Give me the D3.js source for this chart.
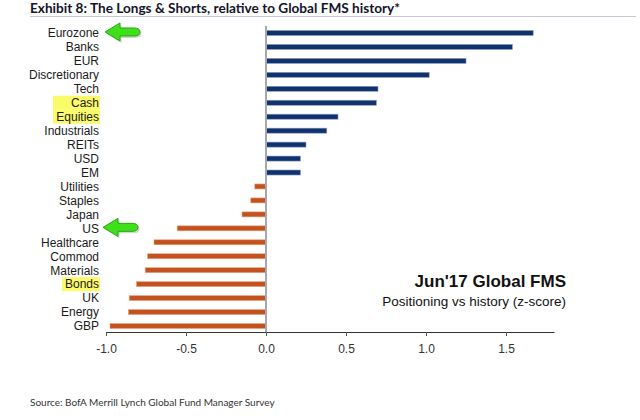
<!DOCTYPE html>
<html>
<head>
<meta charset="utf-8">
<script src="https://cdn.jsdelivr.net/npm/d3@7"></script>
<style>
  body { margin: 0; background: #fff; }
  svg { display: block; }
</style>
</head>
<body>
<div id="chart-area"></div>
<script>
const categories = ["Eurozone", "Banks", "EUR", "Discretionary", "Tech", "Cash", "Equities",
  "Industrials", "REITs", "USD", "EM", "Utilities", "Staples", "Japan", "US", "Healthcare",
  "Commod", "Materials", "Bonds", "UK", "Energy", "GBP"];
const zScores = [1.67, 1.54, 1.25, 1.02, 0.70, 0.69, 0.45, 0.38, 0.25, 0.215, 0.215,
  -0.07, -0.095, -0.15, -0.555, -0.70, -0.74, -0.755, -0.81, -0.855, -0.86, -0.975];
const tickValues = [-1.0, -0.5, 0.0, 0.5, 1.0, 1.5];
const highlighted = ["Cash", "Equities", "Bonds"];
const arrowed = ["Eurozone", "US"];

const data = categories.map((c, i) => ({ name: c, value: zScores[i] }));

const W = 640, H = 420;
const svg = d3.select("#chart-area")
  .append("svg")
  .attr("width", W)
  .attr("height", H);

// title + rule
svg.append("text")
  .attr("x", 30)
  .attr("y", 12.5)
  .attr("font-family", "Lato, 'Open Sans', sans-serif")
  .attr("font-weight", "bold")
  .attr("font-size", 14)
  .attr("fill", "#14142a")
  .attr("textLength", 370)
  .attr("lengthAdjust", "spacingAndGlyphs")
  .text("Exhibit 8: The Longs & Shorts, relative to Global FMS history*");

svg.append("line")
  .attr("x1", 30).attr("x2", 636)
  .attr("y1", 16.5).attr("y2", 16.5)
  .attr("stroke", "#c3c8d4")
  .attr("stroke-width", 1);

const x = d3.scaleLinear().domain([-1, 1.8]).range([106, 554]);
const y = d3.scaleBand().domain(categories).range([26, 333]).paddingInner(0.64).paddingOuter(0.32);
const rowMid = d => y(d) + y.bandwidth() / 2;

// yellow highlights behind some labels
svg.append("g")
  .selectAll("rect")
  .data(highlighted)
  .join("rect")
  .attr("x", d => d === "Bonds" ? 62 : 53)
  .attr("y", d => rowMid(d) - 7)
  .attr("width", d => d === "Bonds" ? 38 : 47)
  .attr("height", 14)
  .attr("fill", "#fbfb6a");

// category labels
svg.append("g")
  .selectAll("text")
  .data(categories)
  .join("text")
  .attr("x", 99)
  .attr("y", d => rowMid(d))
  .attr("dy", "0.36em")
  .attr("text-anchor", "end")
  .attr("font-family", "'Liberation Sans', Arial, sans-serif")
  .attr("font-size", 12)
  .attr("fill", "#1a1a1a")
  .text(d => d);

// bars
svg.append("g")
  .selectAll("rect")
  .data(data)
  .join("rect")
  .attr("x", d => x(Math.min(0, d.value)))
  .attr("y", d => y(d.name))
  .attr("width", d => Math.abs(x(d.value) - x(0)))
  .attr("height", y.bandwidth())
  .attr("fill", d => d.value >= 0 ? "#10336f" : "#c4521f")
  .attr("stroke", d => d.value >= 0 ? "#8a9cc0" : "#e6a888")
  .attr("stroke-width", 0.6);

// zero line
svg.append("line")
  .attr("x1", x(0)).attr("x2", x(0))
  .attr("y1", 26).attr("y2", 332)
  .attr("stroke", "#a8a8a8")
  .attr("stroke-width", 2);

// x axis
const axis = svg.append("g")
  .attr("transform", "translate(0,332)")
  .call(d3.axisBottom(x).tickValues(tickValues)
    .tickFormat(d => d.toFixed(1)).tickSize(4).tickSizeOuter(0));
axis.select(".domain").attr("stroke", "#333");
axis.selectAll(".tick line").attr("stroke", "#555");
axis.selectAll(".tick text")
  .attr("y", 12)
  .attr("font-family", "'Liberation Sans', Arial, sans-serif")
  .attr("font-size", 12)
  .attr("fill", "#333");

// annotation
svg.append("text")
  .attr("x", 566).attr("y", 287)
  .attr("text-anchor", "end")
  .attr("font-family", "'Liberation Sans', Arial, sans-serif")
  .attr("font-weight", "bold")
  .attr("font-size", 17)
  .attr("fill", "#111")
  .text("Jun'17 Global FMS");
svg.append("text")
  .attr("x", 566).attr("y", 306)
  .attr("text-anchor", "end")
  .attr("font-family", "'Liberation Sans', Arial, sans-serif")
  .attr("font-size", 13.5)
  .attr("fill", "#111")
  .text("Positioning vs history (z-score)");

// green arrows
const arrowPath = "M0,0 L15,-9 L15,-4 L29,-4 Q35,-4 35,0 Q35,4 29,4 L15,4 L15,9 Z";
const arrows = svg.append("g")
  .selectAll("g")
  .data(arrowed)
  .join("g")
  .attr("transform", d => `translate(${d === "US" ? 103 : 105},${rowMid(d) - 1})`);
arrows.append("path")
  .attr("d", arrowPath)
  .attr("transform", "translate(1.5,2)")
  .attr("fill", "#9aa79a")
  .attr("opacity", 0.45);
arrows.append("path")
  .attr("d", arrowPath)
  .attr("fill", "#3ee01a")
  .attr("stroke", "#2aa516")
  .attr("stroke-width", 1)
  .attr("stroke-linejoin", "round");

// source
svg.append("text")
  .attr("x", 30).attr("y", 406)
  .attr("font-family", "Lato, 'Open Sans', sans-serif")
  .attr("font-size", 10)
  .attr("fill", "#333")
  .text("Source: BofA Merrill Lynch Global Fund Manager Survey");
</script>
</body>
</html>
